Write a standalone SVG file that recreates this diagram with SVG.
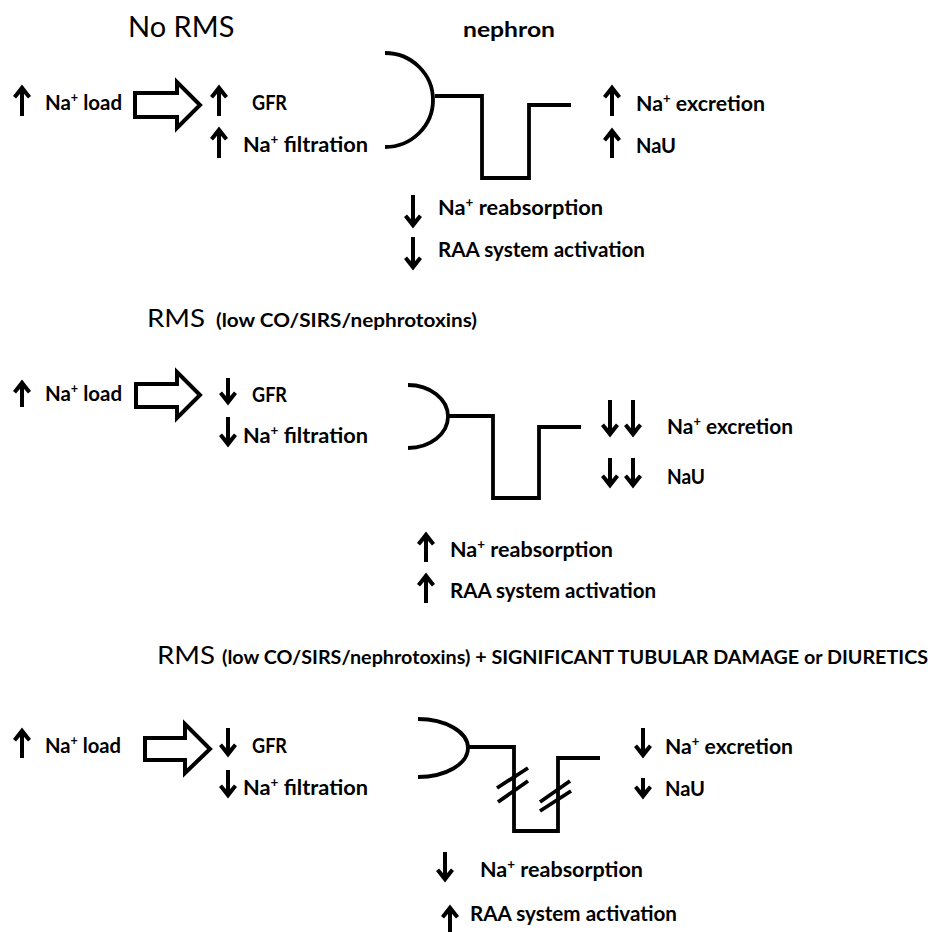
<svg xmlns="http://www.w3.org/2000/svg" width="930" height="932" viewBox="0 0 930 932">
<style>
  .t{font-family:Lato,"Open Sans","Liberation Sans",sans-serif;font-weight:bold;font-size:21px;fill:#000}
  .sup{font-size:13px}
  .title{font-family:Lato,"Open Sans","Liberation Sans",sans-serif;font-weight:normal;font-size:29px;fill:#000}
  .rms{font-family:Lato,"Open Sans","Liberation Sans",sans-serif;font-weight:normal;font-size:25px;fill:#000}
  .sub{font-family:Lato,"Open Sans","Liberation Sans",sans-serif;font-weight:bold;font-size:19px;fill:#000}
  .ar{stroke:#000;stroke-width:4;fill:none;marker-end:url(#ah)}
  .neph{stroke:#000;stroke-width:3.8;fill:none;stroke-linejoin:miter}
  .big{stroke:#000;stroke-width:4;fill:#fff;stroke-linejoin:miter}
</style>
<defs>
  <marker id="ah" markerUnits="userSpaceOnUse" markerWidth="15" markerHeight="18" viewBox="0 0 15 18" refX="11" refY="9" orient="auto">
    <path d="M14.5,9 L3,0 L0.5,3 L7.5,9 L0.5,15 L3,18 Z" fill="#000"/>
  </marker>
</defs>
<rect width="930" height="932" fill="#fff"/>

<!-- Section 1: No RMS -->
<g id="title1">
  <text class="title" x="128" y="37">No RMS</text>
  <text class="t" x="463" y="37" font-size="24" textLength="92" lengthAdjust="spacingAndGlyphs">nephron</text>
</g>
<g id="naload1">
  <line class="ar" x1="22" y1="116" x2="22" y2="88"/>
  <text class="t" x="45" y="110" textLength="77" lengthAdjust="spacingAndGlyphs">Na<tspan class="sup" dy="-8">+</tspan><tspan dy="8"> load</tspan></text>
</g>
<g id="gfr1">
  <line class="ar" x1="219" y1="116" x2="219" y2="88"/>
  <text class="t" x="252" y="110" textLength="35" lengthAdjust="spacingAndGlyphs">GFR</text>
  <line class="ar" x1="219" y1="158" x2="219" y2="130"/>
  <text class="t" x="243" y="152" textLength="125" lengthAdjust="spacingAndGlyphs">Na<tspan class="sup" dy="-8">+</tspan><tspan dy="8"> filtration</tspan></text>
</g>
<g id="nephron1">
  <path class="neph" d="M385,53 A48,47 0 0 1 385,147"/>
  <path class="neph" d="M435,96 H482 V178 H529 V105 H571"/>
</g>
<g id="excretion1">
  <line class="ar" x1="612" y1="116" x2="612" y2="88"/>
  <text class="t" x="636" y="111" textLength="129" lengthAdjust="spacingAndGlyphs">Na<tspan class="sup" dy="-8">+</tspan><tspan dy="8"> excretion</tspan></text>
  <line class="ar" x1="612" y1="158" x2="612" y2="131"/>
  <text class="t" x="636" y="153" textLength="40" lengthAdjust="spacingAndGlyphs">NaU</text>
</g>
<g id="reabs1">
  <line class="ar" x1="413" y1="195" x2="413" y2="225"/>
  <text class="t" x="438" y="215" textLength="165" lengthAdjust="spacingAndGlyphs">Na<tspan class="sup" dy="-8">+</tspan><tspan dy="8"> reabsorption</tspan></text>
  <line class="ar" x1="413" y1="237" x2="413" y2="267"/>
  <text class="t" x="438" y="257" textLength="207" lengthAdjust="spacingAndGlyphs">RAA system activation</text>
</g>

<!-- Section 2 -->
<g id="title2">
  <text class="rms" x="147" y="327" textLength="58" lengthAdjust="spacingAndGlyphs">RMS</text>
  <text class="sub" x="216" y="327" textLength="261" lengthAdjust="spacingAndGlyphs">(low CO/SIRS/nephrotoxins)</text>
</g>
<g id="naload2">
  <line class="ar" x1="22" y1="407" x2="22" y2="383"/>
  <text class="t" x="45" y="401" textLength="77" lengthAdjust="spacingAndGlyphs">Na<tspan class="sup" dy="-8">+</tspan><tspan dy="8"> load</tspan></text>
</g>
<g id="gfr2">
  <line class="ar" x1="228" y1="378" x2="228" y2="402"/>
  <text class="t" x="252" y="402" textLength="35" lengthAdjust="spacingAndGlyphs">GFR</text>
  <line class="ar" x1="228" y1="417" x2="228" y2="444"/>
  <text class="t" x="243" y="443" textLength="125" lengthAdjust="spacingAndGlyphs">Na<tspan class="sup" dy="-8">+</tspan><tspan dy="8"> filtration</tspan></text>
</g>
<g id="nephron2">
  <path class="neph" d="M408,385 A40,31.5 0 0 1 408,448"/>
  <path class="neph" d="M447,416 H493 V498 H539 V427 H581"/>
</g>
<g id="excretion2">
  <line class="ar" x1="610" y1="400" x2="610" y2="434"/>
  <line class="ar" x1="633" y1="400" x2="633" y2="434"/>
  <text class="t" x="667" y="434" textLength="126" lengthAdjust="spacingAndGlyphs">Na<tspan class="sup" dy="-8">+</tspan><tspan dy="8"> excretion</tspan></text>
  <line class="ar" x1="610" y1="458" x2="610" y2="485"/>
  <line class="ar" x1="633" y1="458" x2="633" y2="485"/>
  <text class="t" x="667" y="484" textLength="38" lengthAdjust="spacingAndGlyphs">NaU</text>
</g>
<g id="reabs2">
  <line class="ar" x1="426" y1="562" x2="426" y2="535"/>
  <text class="t" x="450" y="557" textLength="163" lengthAdjust="spacingAndGlyphs">Na<tspan class="sup" dy="-8">+</tspan><tspan dy="8"> reabsorption</tspan></text>
  <line class="ar" x1="426" y1="603" x2="426" y2="576"/>
  <text class="t" x="450" y="598" textLength="206" lengthAdjust="spacingAndGlyphs">RAA system activation</text>
</g>

<!-- Section 3 -->
<g id="title3">
  <text class="rms" x="157" y="664" textLength="58" lengthAdjust="spacingAndGlyphs">RMS</text>
  <text class="sub" x="222" y="664" textLength="706" lengthAdjust="spacingAndGlyphs">(low CO/SIRS/nephrotoxins) + SIGNIFICANT TUBULAR DAMAGE or DIURETICS</text>
</g>
<g id="naload3">
  <line class="ar" x1="22" y1="758" x2="22" y2="731"/>
  <text class="t" x="45" y="753" textLength="76" lengthAdjust="spacingAndGlyphs">Na<tspan class="sup" dy="-8">+</tspan><tspan dy="8"> load</tspan></text>
</g>
<g id="gfr3">
  <line class="ar" x1="228" y1="728" x2="228" y2="754"/>
  <text class="t" x="252" y="753" textLength="35" lengthAdjust="spacingAndGlyphs">GFR</text>
  <line class="ar" x1="228" y1="770" x2="228" y2="795"/>
  <text class="t" x="243" y="795" textLength="125" lengthAdjust="spacingAndGlyphs">Na<tspan class="sup" dy="-8">+</tspan><tspan dy="8"> filtration</tspan></text>
</g>
<g id="nephron3">
  <path class="neph" d="M418,719 A50,29 0 0 1 418,777"/>
  <path class="neph" d="M468,747 H514 V831 H558 V758 H600"/>
  <path class="neph" d="M497,788 L528,768 M498,802 L528,781 M540,802 L570,781 M540,811 L571,791"/>
</g>
<g id="excretion3">
  <line class="ar" x1="643" y1="728" x2="643" y2="755"/>
  <text class="t" x="665" y="754" textLength="128" lengthAdjust="spacingAndGlyphs">Na<tspan class="sup" dy="-8">+</tspan><tspan dy="8"> excretion</tspan></text>
  <line class="ar" x1="643" y1="778" x2="643" y2="796"/>
  <text class="t" x="665" y="796" textLength="40" lengthAdjust="spacingAndGlyphs">NaU</text>
</g>
<g id="reabs3">
  <line class="ar" x1="445" y1="852" x2="445" y2="879"/>
  <text class="t" x="480" y="877" textLength="163" lengthAdjust="spacingAndGlyphs">Na<tspan class="sup" dy="-8">+</tspan><tspan dy="8"> reabsorption</tspan></text>
  <line class="ar" x1="450" y1="932" x2="450" y2="908"/>
  <text class="t" x="470" y="921" textLength="207" lengthAdjust="spacingAndGlyphs">RAA system activation</text>
</g>

<!-- connectors: hollow block arrows -->
<g id="connectors">
  <path class="big" d="M135,93 H177 V82 L200,105 L177,128 V117 H135 Z"/>
  <path class="big" d="M136,384 H177 V372 L200,395 L177,418 V407 H136 Z"/>
  <path class="big" d="M145,738 H185 V724 L210,749 L185,773 V760 H145 Z"/>
</g>
</svg>
